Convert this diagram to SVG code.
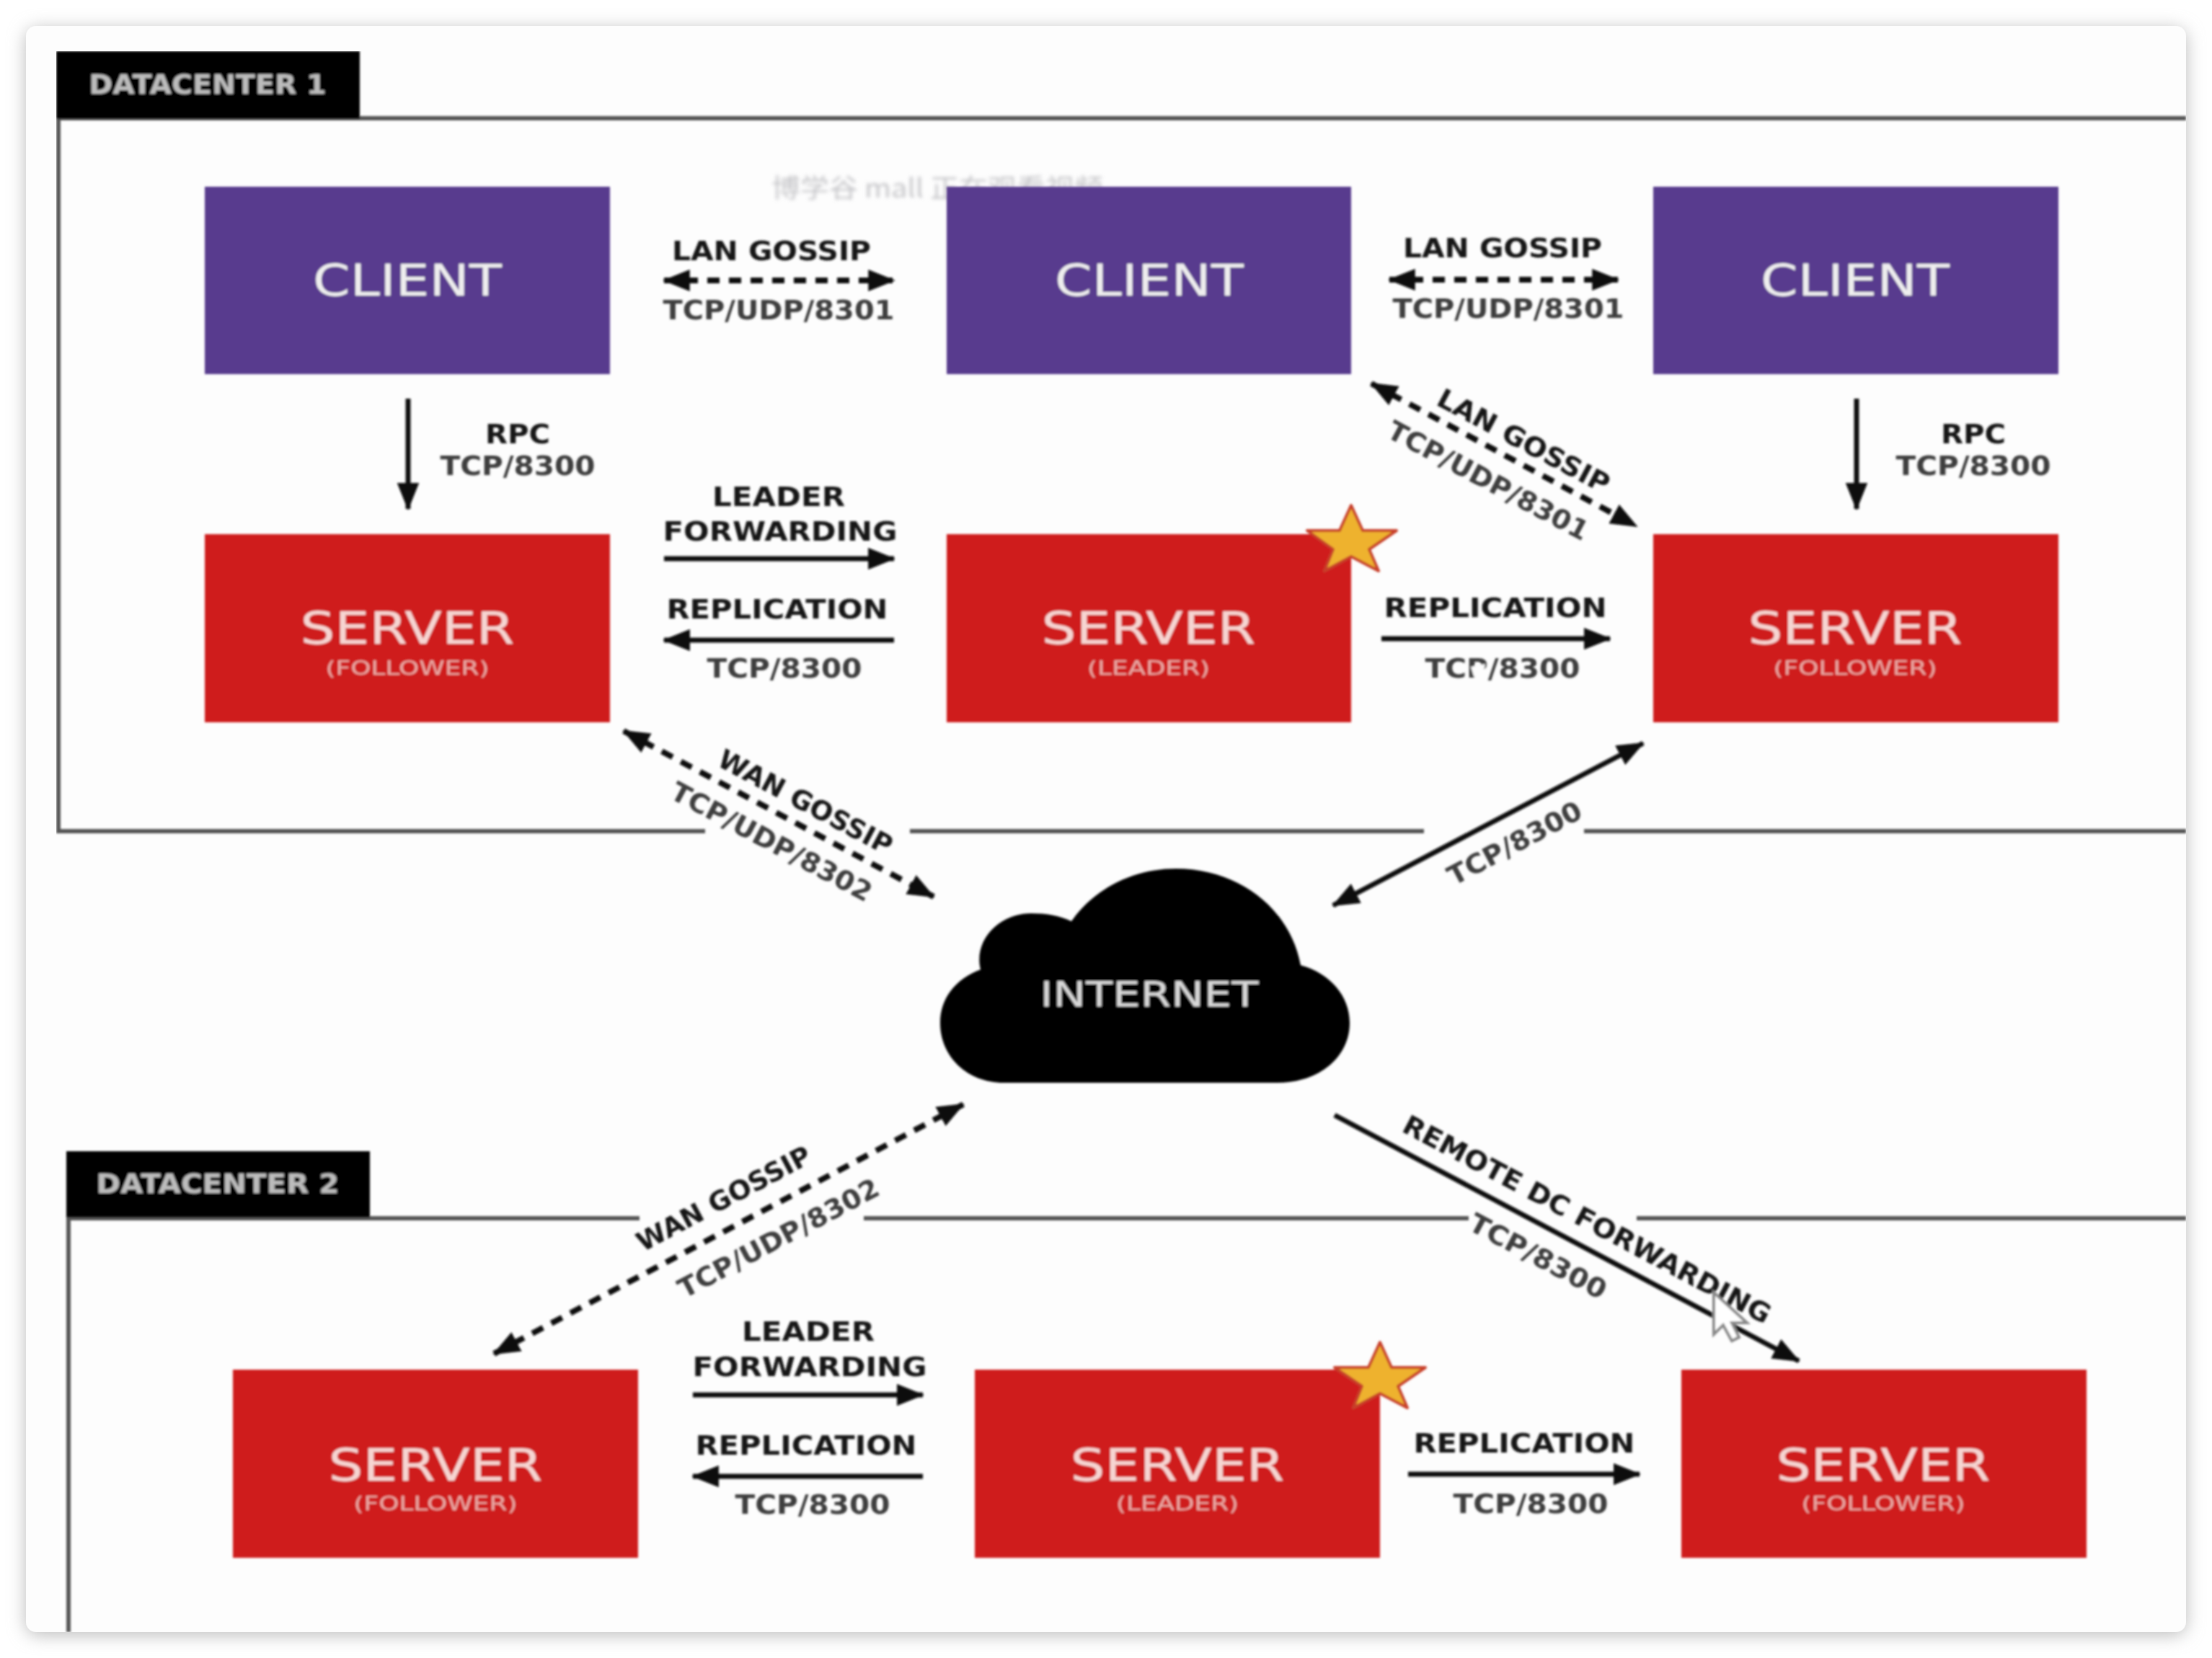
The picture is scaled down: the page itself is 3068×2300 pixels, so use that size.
<svg xmlns="http://www.w3.org/2000/svg" width="3068" height="2300" viewBox="0 0 3068 2300">
<style>
text{font-family:"DejaVu Sans","Liberation Sans",sans-serif;text-anchor:middle;dominant-baseline:central}
.lb{font-size:37px;font-weight:700;fill:#161616}
.lr{font-size:37px;font-weight:700;fill:#3c3c3c}
.nm{font-size:60px;fill:#eee}
.sv{font-size:62px;fill:#f6d5d2}
.sb{font-size:27px;fill:#eaa9a4}
.tab{font-size:38px;fill:#bcbcbc;font-weight:700}
.cl{fill:#583b8e}.sr{fill:#cf1b1f}
.st{fill:#eeb22e;stroke:#c8402c;stroke-width:4;stroke-linejoin:round}
.fr{fill:none;stroke:#555;stroke-width:6}
.ar{fill:none;stroke:#111;stroke-width:7}
.da{stroke-dasharray:17 13;stroke-width:8}
</style>
<defs>
<filter id="sh" x="-5%" y="-5%" width="110%" height="110%"><feGaussianBlur stdDeviation="12"/></filter>
<filter id="b" x="0" y="0" width="100%" height="100%"><feGaussianBlur stdDeviation="1.7"/></filter>
<filter id="w" x="-5%" y="-30%" width="110%" height="160%"><feGaussianBlur stdDeviation="2.6"/></filter>
<marker id="e" viewBox="0 0 10 8" refX="9.5" refY="4" markerWidth="5.4" markerHeight="4.4" markerUnits="strokeWidth" orient="auto-start-reverse"><path d="M0 0L10 4L0 8z" fill="#0a0a0a"/></marker>
<marker id="d" viewBox="0 0 10 8" refX="9.5" refY="4" markerWidth="4.7" markerHeight="3.8" markerUnits="strokeWidth" orient="auto-start-reverse"><path d="M0 0L10 4L0 8z" fill="#0a0a0a"/></marker>
</defs>
<rect width="3068" height="2300" fill="#fff"/>
<rect x="36" y="40" width="2996" height="2228" rx="16" fill="#bbb" filter="url(#sh)"/>
<rect x="36" y="36" width="2996" height="2228" rx="14" fill="#fdfdfd"/>
<text id="watermark" x="1300" y="258" font-size="36" fill="#c4c4c8" filter="url(#w)" style="font-family:'Noto Sans CJK SC','DejaVu Sans',sans-serif" textLength="460" lengthAdjust="spacingAndGlyphs">博学谷 mall 正在观看视频</text>
<g filter="url(#b)">
<g id="datacenter-1">
<path class="fr" d="M978 1153H81V164H3032M1262 1153H1975M2197 1153H3032"/>
<rect x="78" y="71" width="421" height="94" fill="#000"/>
<text class="tab" x="288" y="117" textLength="329" lengthAdjust="spacingAndGlyphs">DATACENTER 1</text>
</g>
<g id="datacenter-2">
<path class="fr" d="M95 2264V1690H887M1198 1690H2037M2270 1690H3032"/>
<rect x="92" y="1597" width="421" height="92" fill="#000"/>
<text class="tab" x="302" y="1642" textLength="337" lengthAdjust="spacingAndGlyphs">DATACENTER 2</text>
</g>
<g id="connectors">
<path class="ar da" marker-start="url(#d)" marker-end="url(#d)" d="M921 389H1240"/>
<path class="ar da" marker-start="url(#d)" marker-end="url(#d)" d="M1927 388H2244"/>
<path class="ar" marker-end="url(#e)" d="M566 553V706"/>
<path class="ar" marker-end="url(#e)" d="M2575 553V706"/>
<path class="ar" marker-end="url(#e)" d="M921 775H1240"/>
<path class="ar" marker-end="url(#e)" d="M1240 888H921"/>
<path class="ar" marker-end="url(#e)" d="M1916 886H2233"/>
<path class="ar" marker-end="url(#e)" d="M961 1935H1280"/>
<path class="ar" marker-end="url(#e)" d="M1280 2048H961"/>
<path class="ar" marker-end="url(#e)" d="M1953 2045H2274"/>
<path class="ar da" marker-start="url(#d)" marker-end="url(#d)" d="M1902 532L2270 730"/>
<path class="ar da" marker-start="url(#d)" marker-end="url(#d)" d="M865 1014L1295 1244"/>
<path class="ar" marker-start="url(#e)" marker-end="url(#e)" d="M2279 1031L1849 1256"/>
<path class="ar da" marker-start="url(#d)" marker-end="url(#d)" d="M1336 1532L685 1878"/>
<path class="ar" marker-end="url(#e)" d="M1851 1547L2495 1888"/>
</g>
<g id="labels" transform="translate(0 2)">
<text class="lb" x="1070" y="346" textLength="276" lengthAdjust="spacingAndGlyphs">LAN GOSSIP</text>
<text class="lr" x="1080" y="428" textLength="321" lengthAdjust="spacingAndGlyphs">TCP/UDP/8301</text>
<text class="lb" x="2084" y="342" textLength="276" lengthAdjust="spacingAndGlyphs">LAN GOSSIP</text>
<text class="lr" x="2092" y="426" textLength="321" lengthAdjust="spacingAndGlyphs">TCP/UDP/8301</text>
<text class="lb" x="718" y="600" textLength="90" lengthAdjust="spacingAndGlyphs">RPC</text>
<text class="lr" x="718" y="644" textLength="215" lengthAdjust="spacingAndGlyphs">TCP/8300</text>
<text class="lb" x="2737" y="600" textLength="90" lengthAdjust="spacingAndGlyphs">RPC</text>
<text class="lr" x="2737" y="644" textLength="215" lengthAdjust="spacingAndGlyphs">TCP/8300</text>
<text class="lb" x="1080" y="687" textLength="184" lengthAdjust="spacingAndGlyphs">LEADER</text>
<text class="lb" x="1082" y="735" textLength="325" lengthAdjust="spacingAndGlyphs">FORWARDING</text>
<text class="lb" x="1078" y="843" textLength="307" lengthAdjust="spacingAndGlyphs">REPLICATION</text>
<text class="lr" x="1088" y="925" textLength="215" lengthAdjust="spacingAndGlyphs">TCP/8300</text>
<text class="lb" x="2074" y="841" textLength="309" lengthAdjust="spacingAndGlyphs">REPLICATION</text>
<text class="lr" x="2084" y="925" textLength="215" lengthAdjust="spacingAndGlyphs">TCP/8300</text>
<text class="lb" x="1121" y="1845" textLength="184" lengthAdjust="spacingAndGlyphs">LEADER</text>
<text class="lb" x="1123" y="1894" textLength="325" lengthAdjust="spacingAndGlyphs">FORWARDING</text>
<text class="lb" x="1118" y="2003" textLength="307" lengthAdjust="spacingAndGlyphs">REPLICATION</text>
<text class="lr" x="1127" y="2085" textLength="215" lengthAdjust="spacingAndGlyphs">TCP/8300</text>
<text class="lb" x="2114" y="2000" textLength="307" lengthAdjust="spacingAndGlyphs">REPLICATION</text>
<text class="lr" x="2123" y="2084" textLength="215" lengthAdjust="spacingAndGlyphs">TCP/8300</text>
<text class="lb" transform="translate(2113 610) rotate(28)" textLength="265" lengthAdjust="spacingAndGlyphs">LAN GOSSIP</text>
<text class="lr" transform="translate(2064 665) rotate(28)" textLength="310" lengthAdjust="spacingAndGlyphs">TCP/UDP/8301</text>
<text class="lb" transform="translate(1117 1111) rotate(28)" textLength="268" lengthAdjust="spacingAndGlyphs">WAN GOSSIP</text>
<text class="lr" transform="translate(1070 1166) rotate(28)" textLength="310" lengthAdjust="spacingAndGlyphs">TCP/UDP/8302</text>
<text class="lr" transform="translate(2101 1168) rotate(-28)" textLength="205" lengthAdjust="spacingAndGlyphs">TCP/8300</text>
<text class="lb" transform="translate(1004 1661) rotate(-28)" textLength="268" lengthAdjust="spacingAndGlyphs">WAN GOSSIP</text>
<text class="lr" transform="translate(1080 1716) rotate(-28)" textLength="310" lengthAdjust="spacingAndGlyphs">TCP/UDP/8302</text>
<text class="lb" transform="translate(2201 1690) rotate(28)" textLength="572" lengthAdjust="spacingAndGlyphs">REMOTE DC FORWARDING</text>
<text class="lr" transform="translate(2133 1741) rotate(28)" textLength="210" lengthAdjust="spacingAndGlyphs">TCP/8300</text>
</g>
<g id="client-1"><rect class="cl" x="284" y="259" width="562" height="260"/><text class="nm" x="565" y="389" textLength="262" lengthAdjust="spacingAndGlyphs">CLIENT</text></g>
<g id="client-2"><rect class="cl" x="1313" y="259" width="561" height="260"/><text class="nm" x="1594" y="389" textLength="262" lengthAdjust="spacingAndGlyphs">CLIENT</text></g>
<g id="client-3"><rect class="cl" x="2293" y="259" width="562" height="260"/><text class="nm" x="2573" y="389" textLength="262" lengthAdjust="spacingAndGlyphs">CLIENT</text></g>
<g id="server-1-follower"><rect class="sr" x="284" y="741" width="562" height="261"/><text class="sv" x="565" y="871" textLength="297" lengthAdjust="spacingAndGlyphs">SERVER</text><text class="sb" x="565" y="926" textLength="227" lengthAdjust="spacingAndGlyphs">(FOLLOWER)</text></g>
<g id="server-1-leader"><rect class="sr" x="1313" y="741" width="561" height="261"/><text class="sv" x="1593" y="871" textLength="297" lengthAdjust="spacingAndGlyphs">SERVER</text><text class="sb" x="1593" y="926" textLength="170" lengthAdjust="spacingAndGlyphs">(LEADER)</text><polygon class="st" points="1874,701 1890,736 1937,736 1899,762 1912,792 1874,772 1837,792 1849,762 1813,736 1858,736"/></g>
<g id="server-1-follower-2"><rect class="sr" x="2293" y="741" width="562" height="261"/><text class="sv" x="2573" y="871" textLength="297" lengthAdjust="spacingAndGlyphs">SERVER</text><text class="sb" x="2573" y="926" textLength="227" lengthAdjust="spacingAndGlyphs">(FOLLOWER)</text></g>
<g id="server-2-follower"><rect class="sr" x="323" y="1900" width="562" height="261"/><text class="sv" x="604" y="2032" textLength="297" lengthAdjust="spacingAndGlyphs">SERVER</text><text class="sb" x="604" y="2085" textLength="227" lengthAdjust="spacingAndGlyphs">(FOLLOWER)</text></g>
<g id="server-2-leader"><rect class="sr" x="1352" y="1900" width="562" height="261"/><text class="sv" x="1633" y="2032" textLength="297" lengthAdjust="spacingAndGlyphs">SERVER</text><text class="sb" x="1633" y="2085" textLength="170" lengthAdjust="spacingAndGlyphs">(LEADER)</text><polygon class="st" points="1914,1862 1930,1897 1977,1897 1939,1923 1952,1953 1914,1933 1877,1953 1889,1923 1851,1897 1898,1897"/></g>
<g id="server-2-follower-2"><rect class="sr" x="2332" y="1900" width="562" height="261"/><text class="sv" x="2612" y="2032" textLength="297" lengthAdjust="spacingAndGlyphs">SERVER</text><text class="sb" x="2612" y="2085" textLength="227" lengthAdjust="spacingAndGlyphs">(FOLLOWER)</text></g>
<g id="internet">
<path fill="#000" d="M1392 1502C1342 1502 1304 1466 1304 1419C1304 1385 1325 1358 1360 1345C1350 1305 1385 1267 1430 1267C1450 1267 1470 1270 1486 1278C1520 1230 1575 1205 1631 1205C1720 1205 1790 1262 1804 1339C1845 1350 1872 1382 1872 1419C1872 1466 1830 1502 1772 1502Z"/>
<text x="1594" y="1379" font-size="48" fill="#d8d8d8" textLength="303" lengthAdjust="spacingAndGlyphs">INTERNET</text>
</g>
<g id="cursor">
<polygon points="2377,1793 2377,1851 2390,1838 2402,1860 2412,1855 2402,1835 2423,1835" fill="#fff" stroke="#888" stroke-width="4"/>
</g>
<polygon id="cursor-ghost" points="2040,925 2060,921 2054,945 2044,938" fill="#fdfdfd"/>
</g>
</svg>
